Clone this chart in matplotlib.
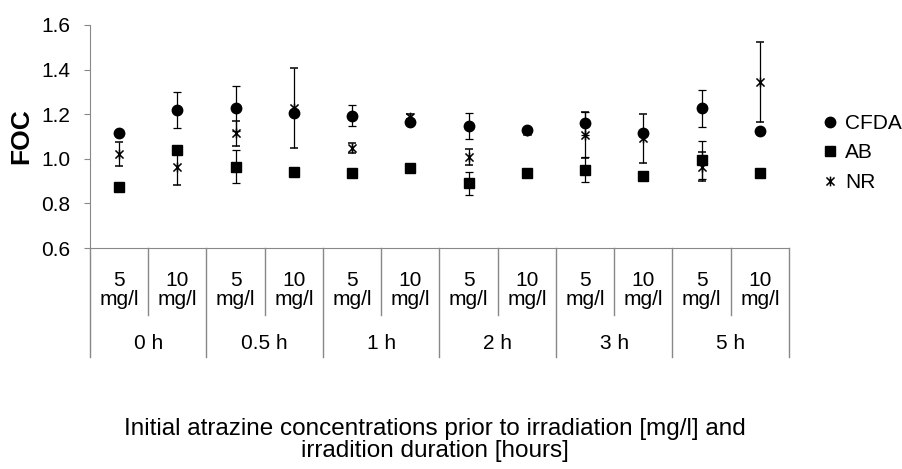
import matplotlib.pyplot as plt
import numpy as np
from matplotlib.path import Path
from matplotlib.lines import Line2D

plt.rcParams['font.family'] = ['Liberation Sans', 'DejaVu Sans']

concs = ['5\nmg/l', '10\nmg/l'] * 6
groups = ['0 h', '0.5 h', '1 h', '2 h', '3 h', '5 h']

cfda = [1.114, 1.219, 1.226, 1.207, 1.193, 1.166, 1.147, 1.129, 1.159, 1.117, 1.226, 1.125]
cfda_err = [0.01, 0.08, 0.10, 0.01, 0.047, 0.01, 0.06, 0.01, 0.052, 0.01, 0.084, 0.015]
ab = [0.875, 1.039, 0.965, 0.942, 0.935, 0.960, 0.890, 0.935, 0.950, 0.924, 0.995, 0.938]
ab_err = [0.01, 0.01, 0.073, 0.01, 0.01, 0.01, 0.053, 0.01, 0.056, 0.01, 0.085, 0.01]
nr = [1.021, 0.965, 1.114, 1.228, 1.047, 1.189, 1.009, 1.125, 1.107, 1.092, 0.965, 1.346]
nr_err = [0.053, 0.083, 0.056, 0.18, 0.022, 0.01, 0.037, 0.01, 0.105, 0.11, 0.065, 0.18]

# Excel-like star marker: X with a vertical line
star = Path([(-1, -1), (1, 1), (-1, 1), (1, -1), (0, -1.2), (0, 1.2)],
            [Path.MOVETO, Path.LINETO, Path.MOVETO, Path.LINETO, Path.MOVETO, Path.LINETO])

fig = plt.figure(figsize=(9.02, 4.69), dpi=100)
ax = fig.add_axes([90 / 902, 1 - 248 / 469, 699 / 902, 223 / 469])

x = np.arange(len(concs))
ekw = dict(ecolor='black', elinewidth=0.9, capsize=3.2, capthick=0.9, linestyle='none')
ax.errorbar(x, cfda, yerr=cfda_err, marker='o', ms=7.5, color='black', **ekw)
ax.errorbar(x, ab, yerr=ab_err, marker='s', ms=7, color='black', **ekw)
ax.errorbar(x, nr, yerr=nr_err, marker=star, ms=7, mew=1.1, color='black', mfc='none', **ekw)

ax.set_xlim(-0.5, len(concs) - 0.5)
ax.set_ylim(0.6, 1.6)
ticks = np.arange(0.6, 1.61, 0.2)
ax.set_yticks(ticks)
ax.set_yticklabels([f'{v:.1f}' for v in ticks], fontsize=15)
ax.tick_params(axis='y', length=4, color='#888888', pad=10)
ax.set_xticks([])
for s in ['top', 'right']:
    ax.spines[s].set_visible(False)
for s in ['left', 'bottom']:
    ax.spines[s].set_color('#888888')

ax.set_ylabel('FOC', fontsize=19, fontweight='bold', labelpad=6)

# category axis: two levels with separators
tr = ax.get_xaxis_transform()
short_y, long_y = -(315 - 248) / 223, -(357 - 248) / 223
for i in range(len(concs) + 1):
    yb = long_y if i % 2 == 0 else short_y
    ax.plot([i - 0.5, i - 0.5], [0, yb], color='#888888', lw=1, transform=tr, clip_on=False)
for i, lab in enumerate(concs):
    ax.text(i, -(290 - 248) / 223, lab, transform=tr, ha='center', va='center',
            fontsize=15, linespacing=1.0)
for j, g in enumerate(groups):
    ax.text(2 * j + 0.5, -(343 - 248) / 223, g, transform=tr, ha='center', va='center',
            fontsize=15)

fig.text(435 / 902, 1 - 440 / 469,
         'Initial atrazine concentrations prior to irradiation [mg/l] and\nirradition duration [hours]',
         ha='center', va='center', fontsize=17.5, linespacing=1.0)

handles = [Line2D([], [], ls='none', marker='o', ms=7.5, color='black'),
           Line2D([], [], ls='none', marker='s', ms=7, color='black'),
           Line2D([], [], ls='none', marker=star, ms=7, mew=1.1, color='black', mfc='none')]
ax.legend(handles, ['CFDA', 'AB', 'NR'], loc='upper left',
          bbox_to_anchor=(822 / 902, 1 - 114 / 469), bbox_transform=fig.transFigure,
          frameon=False, fontsize=15, handlelength=0.8, handletextpad=0.3,
          labelspacing=0.5, borderpad=0, borderaxespad=0)

fig.savefig('out.png', dpi=100)
